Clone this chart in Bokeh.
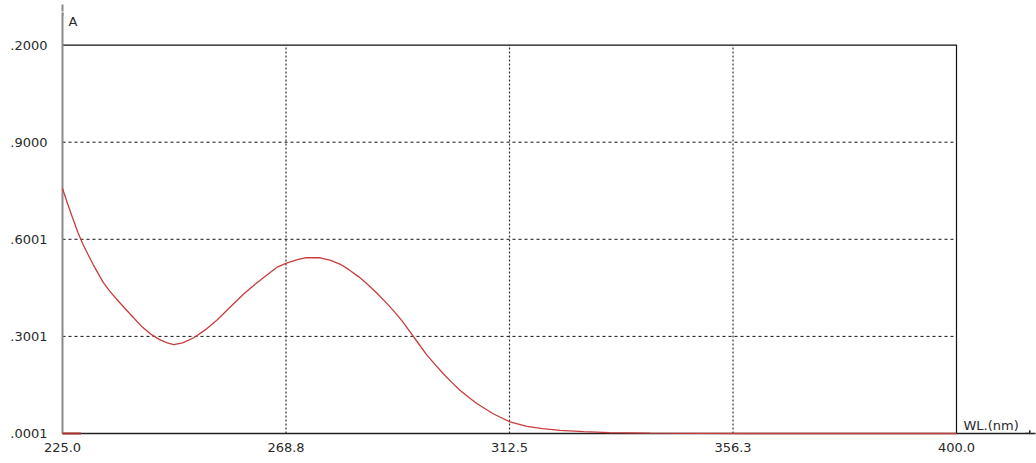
from bokeh.plotting import figure
from bokeh.models import FixedTicker, Range1d, Label, Arrow, NormalHead
from bokeh.embed import file_html
from bokeh.resources import INLINE

# ---- data ----
wl_nm = [225.0, 226.0, 227.0, 228.0, 229.0, 230.0, 231.0, 232.0, 233.0, 234.4,
         236.0, 237.6, 239.0, 240.5, 242.2, 244.0, 245.5, 246.8, 248.5, 250.7,
         253.0, 255.2, 258.0, 260.5, 263.0, 265.0, 267.0, 269.0, 271.0, 272.5,
         275.5, 277.5, 279.5, 281.0, 283.0, 284.6, 286.5, 288.5, 290.0, 291.5,
         293.0, 294.5, 296.3, 298.0, 299.6, 301.2, 302.8, 304.5, 306.1, 309.3,
         312.6, 315.9, 319.0, 322.4, 327.0, 332.0, 340.0, 350.0, 360.0, 400.0]
absorb = [0.757, 0.710, 0.665, 0.622, 0.585, 0.553, 0.522, 0.494, 0.466, 0.437,
          0.408, 0.380, 0.356, 0.331, 0.308, 0.290, 0.280, 0.275, 0.280, 0.296,
          0.321, 0.350, 0.393, 0.432, 0.465, 0.490, 0.514, 0.527, 0.537, 0.543,
          0.543, 0.535, 0.522, 0.507, 0.484, 0.463, 0.434, 0.402, 0.376, 0.347,
          0.315, 0.282, 0.243, 0.212, 0.184, 0.158, 0.134, 0.112, 0.093, 0.061,
          0.036, 0.022, 0.015, 0.010, 0.006, 0.003, 0.001, 0.0003, 0.0001, 0.0001]
baseline_nm = [225.0, 228.6]
baseline_abs = [0.0001, 0.0001]

x_ticks = [225.0, 268.75, 312.5, 356.25, 400.0]
x_labels = ["225.0", "268.8", "312.5", "356.3", "400.0"]
y_ticks = [0.0001, 0.3001, 0.6001, 0.9000, 1.2000]
y_labels = [".0001", ".3001", ".6001", ".9000", ".2000"]
x_title = "WL.(nm)"
y_title = "A"

# ---- geometry ----
W, H = 1036, 463
ML, MR, MT, MB = 62, 6, 12, 30
px_per_nm = 894.0 / 175.0
px_per_a = 388.4 / 1.1999
frame_w = W - ML - MR
frame_h = H - MT - MB
x_end = x_ticks[0] + frame_w / px_per_nm
y_end = y_ticks[0] + frame_h / px_per_a

p = figure(width=W, height=H, output_backend="svg", toolbar_location=None,
           x_range=Range1d(x_ticks[0], x_end), y_range=Range1d(y_ticks[0], y_end),
           min_border_left=ML, min_border_right=MR, min_border_top=MT,
           min_border_bottom=MB)
p.outline_line_color = None
p.grid.visible = False
p.background_fill_color = "white"

FONT = "DejaVu Sans"
TXT = "#2a2a2a"

# axes
p.xaxis.ticker = FixedTicker(ticks=x_ticks)
p.xaxis.major_label_overrides = dict(zip(x_ticks, x_labels))
p.yaxis.ticker = FixedTicker(ticks=y_ticks)
p.yaxis.major_label_overrides = dict(zip(y_ticks, y_labels))
for ax in (p.xaxis, p.yaxis):
    ax.major_tick_line_color = None
    ax.minor_tick_line_color = None
    ax.major_tick_out = 0
    ax.major_tick_in = 0
    ax.major_label_text_font = FONT
    ax.major_label_text_font_size = "13px"
    ax.major_label_text_color = TXT
p.xaxis.axis_line_color = "#222222"
p.xaxis.axis_line_width = 1.3
p.xaxis.major_label_standoff = 9
p.yaxis.axis_line_color = "#8a8a8a"
p.yaxis.axis_line_width = 2
p.yaxis.major_label_standoff = 15

# grid lines (dashed horizontals, dotted verticals)
p.segment(x0=[x_ticks[0]] * 3, x1=[x_ticks[-1]] * 3, y0=y_ticks[1:4], y1=y_ticks[1:4],
          line_color="#111111", line_width=1, line_dash="3 3")
p.segment(x0=x_ticks[1:4], x1=x_ticks[1:4], y0=[y_ticks[0]] * 3, y1=[y_ticks[-1]] * 3,
          line_color="#333333", line_width=1.2, line_dash="2 2")
# plot box top / right border
p.line(x=[x_ticks[0], x_ticks[-1], x_ticks[-1]], y=[y_ticks[-1], y_ticks[-1], y_ticks[0]],
       line_color="#111111", line_width=1.2)

# spectrum
p.line(x=wl_nm, y=absorb, line_color="#c83c3c", line_width=1.3, level="overlay")
p.line(x=baseline_nm, y=baseline_abs, line_color="#b03030", line_width=2, level="overlay")

# axis arrows
p.add_layout(Arrow(end=NormalHead(size=7, fill_color="#444444", line_color="#444444"),
                   x_start=x_ticks[0], y_start=y_end - 0.01,
                   x_end=x_ticks[0], y_end=y_end + 8 / px_per_a,
                   line_color="#8a8a8a", line_width=2))
p.add_layout(Arrow(end=NormalHead(size=6, fill_color="#222222", line_color="#222222"),
                   x_start=x_end - 1, y_start=y_ticks[0],
                   x_end=x_end + 5 / px_per_nm, y_end=y_ticks[0],
                   line_color="#222222", line_width=1.3))

# axis titles
p.add_layout(Label(x=x_ticks[0] + 6 / px_per_nm, y=y_ticks[0] + 412 / px_per_a,
                   text=y_title, text_font=FONT, text_font_size="13px",
                   text_color=TXT, text_baseline="alphabetic"))
p.add_layout(Label(x=x_ticks[-1] + 7 / px_per_nm, y=y_ticks[0] + 8 / px_per_a,
                   text=x_title, text_font=FONT, text_font_size="13px",
                   text_color=TXT, text_baseline="alphabetic"))

open("out.html", "w").write(file_html(p, INLINE))
